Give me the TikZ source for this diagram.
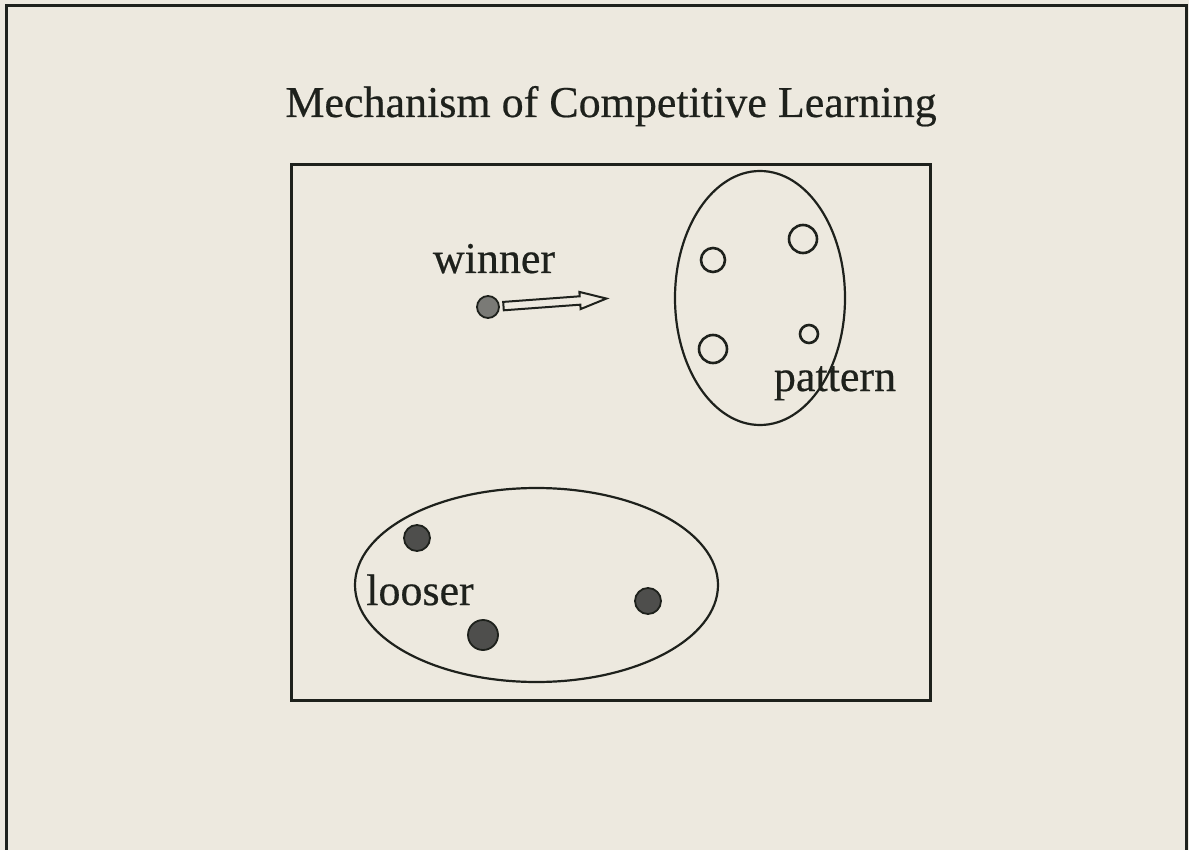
\documentclass[tikz,border=0pt]{standalone}
\usepackage{fontspec}
\setmainfont{Liberation Serif}
\newfontfamily\scanfont[FakeBold=0.45]{Liberation Serif}
\usetikzlibrary{shapes.geometric,shapes.arrows}
\definecolor{paper}{HTML}{EDE9DF}
\definecolor{ink}{HTML}{1E211C}
\definecolor{dotfill}{HTML}{4E4E4C}
\definecolor{wdotfill}{HTML}{7A7A76}
\tikzset{
  frame/.style={draw=ink, line width=1.5pt},
  lbl/.style={text=ink, inner sep=0pt, anchor=base, font=\scanfont\fontsize{22}{26}\selectfont},
  setshape/.style={ellipse, draw=ink, line width=1.1pt, inner sep=0pt},
  opendot/.style={circle, draw=ink, line width=1.3pt, inner sep=0pt},
  fulldot/.style={circle, draw=ink, line width=0.9pt, fill=dotfill, inner sep=0pt},
  bigarrow/.style={single arrow, draw=ink, line width=1pt, fill=paper,
    inner xsep=0pt, inner ysep=1.6pt, minimum width=8.5pt,
    single arrow head extend=2.2pt, single arrow tip angle=36},
}
\begin{document}
\begin{tikzpicture}[x=0.5pt,y=-0.5pt]
\useasboundingbox (0,0) rectangle (1189,850);
\fill[paper] (0,0) rectangle (1189,850);
% outer open frame
\draw[frame] (6,850) -- (6,6) -- (1186,6) -- (1186,850);
% title
\node[lbl] (title) at (611,117) {Mechanism of Competitive Learning};
% inner box
\node[frame, minimum width=319.5pt, minimum height=267.5pt, inner sep=0pt] (area) at (610.5,432.5) {};
% pattern set
\node[setshape, minimum width=85pt, minimum height=127pt] (patset) at (760,298) {};
\node[opendot, minimum size=12pt] (p1) at (713,260) {};
\node[opendot, minimum size=14pt] (p2) at (803,239) {};
\node[opendot, minimum size=14pt] (p3) at (713,349) {};
\node[opendot, minimum size=9pt] (p4) at (809,334) {};
\node[lbl] (pattern) at (835,391) {pattern};
% winner
\node[lbl] (winner) at (494,273) {winner};
\coordinate (aim) at (600,299);
\node[bigarrow, minimum height=51.6pt, rotate=4.2] (arr) at (548.5,302.8) {};
\node[fulldot, fill=wdotfill, minimum size=11pt] (wdot) at (488,307) {};
% looser set
\node[setshape, minimum width=181.5pt, minimum height=97pt] (losset) at (536.5,585) {};
\node[fulldot, minimum size=13pt] (l1) at (417,538) {};
\node[fulldot, minimum size=13pt] (l2) at (648,601) {};
\node[fulldot, minimum size=15pt] (l3) at (483,635) {};
\node[lbl] (looser) at (420,605) {looser};
\end{tikzpicture}
\end{document}
